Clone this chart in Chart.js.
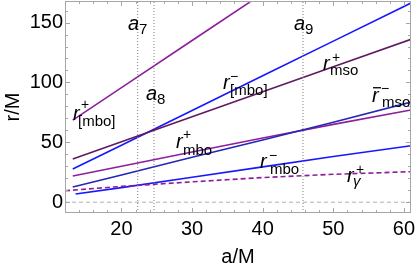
<!DOCTYPE html>
<html><head><meta charset="utf-8">
<script src="https://cdn.jsdelivr.net/npm/chart.js@4"></script>
<style>html,body{margin:0;padding:0;background:#fff}#wrap{width:417px;height:269px}</style>
</head><body><div id="wrap"><canvas id="c" width="417" height="269"></canvas></div>
<script>
// ---- data ----
const aLines = [13.1, 20, 30, 40, 50, 61];
const rMboBrPlus   = [68.6, 95.7, 135.0, 174.3, 213.6, 256.8];
const rMboBrMinus  = [27.7, 47.6, 76.6, 105.6, 134.5, 166.3];
const rMsoPlus     = [36.1, 50.5, 71.4, 92.3, 113.2, 136.0];
const rMboPlus     = [21.9, 30.0, 41.9, 53.6, 65.0, 77.0];
const rMsoBarMinus = [12.7, 22.8, 37.5, 52.0, 66.8, 83.6];
const aMboMinus = [13.5, 20, 30, 40, 50, 61];
const rMboMinus    = [6.8, 12.2, 20.8, 29.5, 38.2, 47.2];
const aGamma = [12, 20, 30, 40, 50, 61];
const rGammaPlus   = [9.6, 13.2, 17.0, 20.6, 23.3, 25.5];
const aSpecial = [22.3, 24.6, 45.7];          // a7, a8, a9
const aSpecialIdx = ['7', '8', '9'];
const xTicks = [20, 30, 40, 50, 60];
const yTicks = [0, 50, 100, 150];
const X_MIN = 12, X_MAX = 61, Y_MIN = -9, Y_MAX = 168;

const zip = (xs, ys) => xs.map((x, i) => ({x, y: ys[i]}));

const PURPLE = '#8e1f9c', DPURPLE = '#5f1a60', BLUE = '#1717ff', DBLUE = '#2626b6';
const FONT = '"Liberation Sans", Arial, sans-serif';

function lineDs(data, color, extra) {
  return Object.assign({data, borderColor: color, borderWidth: 1.6, pointRadius: 0, showLine: true, fill: false, tension: 0}, extra || {});
}

const datasets = [
  lineDs([{x: X_MIN, y: 0}, {x: X_MAX, y: 0}], '#b0b0b0', {borderWidth: 1, borderDash: [4, 3]}),
  ...aSpecial.map(a => lineDs([{x: a, y: Y_MIN}, {x: a, y: Y_MAX}], '#808080', {borderWidth: 1, borderDash: [1, 2]})),
  lineDs(zip(aGamma, rGammaPlus), PURPLE, {borderDash: [5, 3]}),
  lineDs(zip(aMboMinus, rMboMinus), BLUE),
  lineDs(zip(aLines, rMsoBarMinus), DBLUE),
  lineDs(zip(aLines, rMboPlus), PURPLE),
  lineDs(zip(aLines, rMsoPlus), DPURPLE),
  lineDs(zip(aLines, rMboBrMinus), BLUE),
  lineDs(zip(aLines, rMboBrPlus), PURPLE),
];

// curve labels: anchor in data coords, offsets of super/subscripts in px
const curveLabels = [
  {a: 13.13, r: 68.6, sup: '+', sub: '[mbo]', sdx: 8, sdy: -11, bdx: 5, bdy: 6},
  {a: 34.38, r: 94.5, sup: '\u2212', sub: '[mbo]', sdx: 7, sdy: -8, bdx: 7, bdy: 6},
  {a: 48.54, r: 110.4, sup: '+', sub: 'mso', sdx: 9, sdy: -8, bdx: 7, bdy: 5},
  {a: 55.48, r: 83.6, sup: '\u2212', sub: 'mso', sdx: 9, sdy: -9, bdx: 10, bdy: 5, bar: true},
  {a: 27.72, r: 45.2, sup: '+', sub: 'mbo', sdx: 7, sdy: -9, bdx: 7, bdy: 7},
  {a: 39.62, r: 28.5, sup: '\u2212', sub: 'mbo', sdx: 9, sdy: -8, bdx: 10, bdy: 6},
  {a: 51.94, r: 16.9, sup: '+', sub: '\u03b3', sdx: 9, sdy: -8, bdx: 6, bdy: 4, subItalic: true},
];
const aLabelPos = [{a: 20.92, r: 143.7}, {a: 23.47, r: 85.3}, {a: 44.44, r: 143.7}];

const framePlugin = {
  id: 'frame',
  afterDatasetsDraw(chart) {
    const {ctx, chartArea: ca, scales: {x, y}} = chart;
    ctx.save();
    ctx.strokeStyle = '#a6a6a6';
    ctx.lineWidth = 1;
    ctx.strokeRect(ca.left + 0.5, ca.top + 0.5, ca.right - ca.left - 1, ca.bottom - ca.top - 1);
    ctx.beginPath();
    for (let v = 12; v <= 61; v += 2) {
      const len = (v % 10 === 0) ? 5 : 3;
      const px = Math.round(x.getPixelForValue(v)) + 0.5;
      ctx.moveTo(px, ca.bottom); ctx.lineTo(px, ca.bottom - len);
      ctx.moveTo(px, ca.top); ctx.lineTo(px, ca.top + len);
    }
    for (let v = 0; v <= 160; v += 10) {
      const len = (v % 50 === 0) ? 5 : 3;
      const py = Math.round(y.getPixelForValue(v)) + 0.5;
      ctx.moveTo(ca.left, py); ctx.lineTo(ca.left + len, py);
      ctx.moveTo(ca.right, py); ctx.lineTo(ca.right - len, py);
    }
    ctx.stroke();

    // labels
    ctx.fillStyle = '#000';
    ctx.textBaseline = 'alphabetic';
    ctx.textAlign = 'left';
    curveLabels.forEach(L => {
      const px = x.getPixelForValue(L.a), py = y.getPixelForValue(L.r);
      ctx.font = 'italic 20px ' + FONT;
      ctx.fillText('r', px, py);
      if (L.bar) {
        ctx.fillRect(px + 1, py - 15, 8, 1.3);
      }
      ctx.font = '14px ' + FONT;
      ctx.fillText(L.sup, px + L.sdx, py + L.sdy);
      ctx.font = (L.subItalic ? 'italic ' : '') + '15px ' + FONT;
      ctx.fillText(L.sub, px + L.bdx, py + L.bdy);
    });
    aLabelPos.forEach((P, i) => {
      const px = x.getPixelForValue(P.a), py = y.getPixelForValue(P.r);
      ctx.font = 'italic 20px ' + FONT;
      ctx.fillText('a', px, py);
      ctx.font = '15px ' + FONT;
      ctx.fillText(aSpecialIdx[i], px + 11, py + 4);
    });
    ctx.restore();
  }
};

new Chart(document.getElementById('c'), {
  type: 'scatter',
  data: {datasets},
  plugins: [framePlugin],
  options: {
    responsive: false, animation: false, devicePixelRatio: 1,
    layout: {padding: {top: 1, right: 6, left: 0, bottom: 0}},
    plugins: {legend: {display: false}, tooltip: {enabled: false}},
    scales: {
      x: {
        type: 'linear', min: X_MIN, max: X_MAX,
        afterBuildTicks: s => { s.ticks = xTicks.map(v => ({value: v})); },
        afterFit: s => { s.height = 56; s.paddingLeft = 0; s.paddingRight = 0; },
        grid: {display: false, drawTicks: false},
        border: {display: false},
        ticks: {color: '#000', font: {family: FONT, size: 20}, padding: 4, maxRotation: 0, autoSkip: false},
        title: {display: true, text: 'a/M', color: '#000', font: {family: FONT, size: 20}, padding: {top: 0, bottom: 0}}
      },
      y: {
        type: 'linear', min: Y_MIN, max: Y_MAX,
        afterBuildTicks: s => { s.ticks = yTicks.map(v => ({value: v})); },
        afterFit: s => { s.width = 65; s.paddingTop = 0; s.paddingBottom = 0; },
        grid: {display: false, drawTicks: false},
        border: {display: false},
        ticks: {color: '#000', font: {family: FONT, size: 20}, padding: 2, autoSkip: false},
        title: {display: true, text: 'r/M', color: '#000', font: {family: FONT, size: 20}, padding: {top: 1, bottom: 0}}
      }
    }
  }
});
</script></body></html>
